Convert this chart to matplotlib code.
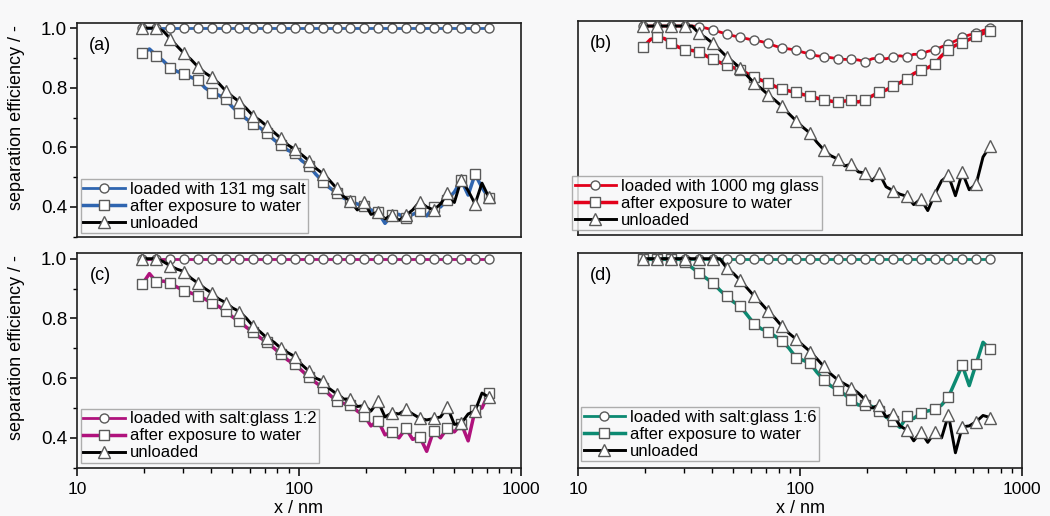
import matplotlib
matplotlib.use("Agg")
import matplotlib.pyplot as plt
from matplotlib.ticker import FixedLocator, NullFormatter

# ----------------------------------------------------------------------
# particle size channels (nm), shared by all curves
X_NM = [19.7, 21.2, 22.8, 24.5, 26.3, 28.2, 30.4, 32.6, 35.1, 37.7,
        40.5, 43.5, 46.7, 50.2, 53.9, 58.0, 62.3, 66.9, 71.9, 77.3,
        83.0, 89.2, 95.9, 103, 111, 119, 128, 137, 148, 159,
        170, 183, 197, 211, 227, 244, 262, 282, 303, 325,
        350, 376, 404, 434, 466, 501, 538, 578, 621, 667, 717]

# (a) 131 mg salt
A_LOADED = [1.00, 1.00, 1.00, 1.00, 1.00, 1.00, 1.00, 1.00, 1.00, 1.00,
            1.00, 1.00, 1.00, 1.00, 1.00, 1.00, 1.00, 1.00, 1.00, 1.00,
            1.00, 1.00, 1.00, 1.00, 1.00, 1.00, 1.00, 1.00, 1.00, 1.00,
            1.00, 1.00, 1.00, 1.00, 1.00, 1.00, 1.00, 1.00, 1.00, 1.00,
            1.00, 1.00, 1.00, 1.00, 1.00, 1.00, 1.00, 1.00, 1.00, 1.00, 1.00]
A_WATER = [0.915, 0.930, 0.908, 0.890, 0.867, 0.855, 0.846, 0.835, 0.826, 0.800,
           0.784, 0.775, 0.761, 0.735, 0.714, 0.695, 0.680, 0.665, 0.647, 0.625,
           0.608, 0.590, 0.580, 0.555, 0.538, 0.510, 0.485, 0.465, 0.447, 0.430,
           0.420, 0.410, 0.403, 0.390, 0.383, 0.345, 0.373, 0.375, 0.363, 0.375,
           0.385, 0.370, 0.400, 0.400, 0.425, 0.450, 0.490, 0.440, 0.510, 0.465, 0.430]
A_UNLOADED = [1.000, 1.000, 1.000, 0.990, 0.965, 0.940, 0.915, 0.895, 0.870, 0.850,
              0.835, 0.815, 0.790, 0.770, 0.753, 0.730, 0.705, 0.690, 0.670, 0.650,
              0.630, 0.608, 0.593, 0.575, 0.555, 0.530, 0.512, 0.490, 0.462, 0.435,
              0.420, 0.390, 0.415, 0.375, 0.383, 0.360, 0.373, 0.355, 0.372, 0.390,
              0.418, 0.400, 0.390, 0.410, 0.446, 0.415, 0.492, 0.455, 0.410, 0.480, 0.432]

# (b) 1000 mg glass
B_LOADED = [1.000, 1.000, 1.000, 1.000, 1.000, 1.000, 1.000, 1.000, 0.998, 0.993,
            0.987, 0.980, 0.973, 0.967, 0.962, 0.957, 0.952, 0.948, 0.942, 0.933,
            0.926, 0.923, 0.919, 0.912, 0.906, 0.900, 0.897, 0.894, 0.890, 0.888,
            0.888, 0.886, 0.880, 0.890, 0.893, 0.890, 0.896, 0.900, 0.896, 0.905,
            0.905, 0.915, 0.920, 0.930, 0.940, 0.950, 0.962, 0.970, 0.975, 0.985, 0.993]
B_WATER = [0.930, 0.955, 0.962, 0.958, 0.944, 0.930, 0.920, 0.918, 0.914, 0.900,
           0.888, 0.878, 0.869, 0.860, 0.853, 0.840, 0.828, 0.818, 0.810, 0.797,
           0.788, 0.782, 0.777, 0.770, 0.765, 0.758, 0.752, 0.748, 0.744, 0.748,
           0.750, 0.745, 0.753, 0.765, 0.778, 0.785, 0.798, 0.810, 0.822, 0.840,
           0.852, 0.860, 0.873, 0.900, 0.920, 0.935, 0.943, 0.955, 0.965, 0.975, 0.985]
B_UNLOADED = [1.000, 1.000, 1.000, 1.000, 1.000, 1.000, 1.000, 1.000, 0.975, 0.960,
              0.942, 0.920, 0.897, 0.878, 0.858, 0.832, 0.808, 0.790, 0.769, 0.750,
              0.730, 0.705, 0.682, 0.660, 0.640, 0.610, 0.584, 0.565, 0.553, 0.530,
              0.536, 0.510, 0.506, 0.480, 0.506, 0.460, 0.447, 0.435, 0.428, 0.400,
              0.419, 0.380, 0.434, 0.480, 0.498, 0.430, 0.508, 0.450, 0.469, 0.560, 0.596]

# (c) salt:glass 1:2
C_LOADED = [1.00, 1.00, 1.00, 1.00, 1.00, 1.00, 1.00, 1.00, 1.00, 1.00,
            1.00, 1.00, 1.00, 1.00, 1.00, 1.00, 1.00, 1.00, 1.00, 1.00,
            1.00, 1.00, 1.00, 1.00, 1.00, 1.00, 1.00, 1.00, 1.00, 1.00,
            1.00, 1.00, 1.00, 1.00, 1.00, 1.00, 1.00, 1.00, 1.00, 1.00,
            1.00, 1.00, 1.00, 1.00, 1.00, 1.00, 1.00, 1.00, 1.00, 1.00, 1.00]
C_WATER = [0.915, 0.950, 0.922, 0.925, 0.918, 0.905, 0.893, 0.885, 0.876, 0.865,
           0.851, 0.840, 0.825, 0.805, 0.790, 0.770, 0.754, 0.735, 0.720, 0.700,
           0.680, 0.660, 0.646, 0.625, 0.603, 0.585, 0.568, 0.545, 0.523, 0.515,
           0.510, 0.490, 0.474, 0.440, 0.458, 0.410, 0.420, 0.400, 0.432, 0.395,
           0.403, 0.355, 0.424, 0.400, 0.433, 0.420, 0.448, 0.390, 0.493, 0.500, 0.550]
C_UNLOADED = [1.000, 1.000, 1.000, 0.990, 0.976, 0.965, 0.957, 0.935, 0.918, 0.900,
              0.885, 0.865, 0.853, 0.835, 0.823, 0.800, 0.773, 0.755, 0.734, 0.720,
              0.700, 0.685, 0.672, 0.645, 0.623, 0.600, 0.590, 0.565, 0.547, 0.530,
              0.530, 0.505, 0.508, 0.490, 0.522, 0.470, 0.484, 0.480, 0.495, 0.480,
              0.466, 0.460, 0.465, 0.470, 0.503, 0.445, 0.449, 0.480, 0.490, 0.550, 0.536]

# (d) salt:glass 1:6
D_LOADED = [1.00, 1.00, 1.00, 1.00, 1.00, 1.00, 1.00, 1.00, 1.00, 1.00,
            1.00, 1.00, 1.00, 1.00, 1.00, 1.00, 1.00, 1.00, 1.00, 1.00,
            1.00, 1.00, 1.00, 1.00, 1.00, 1.00, 1.00, 1.00, 1.00, 1.00,
            1.00, 1.00, 1.00, 1.00, 1.00, 1.00, 1.00, 1.00, 1.00, 1.00,
            1.00, 1.00, 1.00, 1.00, 1.00, 1.00, 1.00, 1.00, 1.00, 1.00, 1.00]
D_WATER = [1.000, 1.000, 1.000, 1.000, 1.000, 1.000, 0.990, 0.970, 0.952, 0.935,
           0.919, 0.895, 0.874, 0.855, 0.840, 0.810, 0.781, 0.765, 0.756, 0.740,
           0.725, 0.700, 0.669, 0.660, 0.650, 0.620, 0.594, 0.575, 0.560, 0.545,
           0.527, 0.510, 0.510, 0.505, 0.490, 0.470, 0.455, 0.435, 0.472, 0.465,
           0.484, 0.490, 0.495, 0.510, 0.537, 0.590, 0.643, 0.575, 0.648, 0.720, 0.696]
D_UNLOADED = [1.000, 1.000, 1.000, 1.000, 1.000, 1.000, 1.000, 1.000, 1.000, 1.000,
              1.000, 1.000, 0.969, 0.950, 0.927, 0.900, 0.874, 0.850, 0.824, 0.800,
              0.773, 0.750, 0.731, 0.710, 0.689, 0.665, 0.639, 0.615, 0.594, 0.580,
              0.568, 0.550, 0.527, 0.500, 0.510, 0.470, 0.479, 0.440, 0.426, 0.390,
              0.420, 0.385, 0.418, 0.400, 0.477, 0.350, 0.437, 0.440, 0.454, 0.475, 0.468]

PANELS = [
    ("(a)", "loaded with 131 mg salt", "#2f65b0", A_LOADED, A_WATER, A_UNLOADED),
    ("(b)", "loaded with 1000 mg glass", "#e2001a", B_LOADED, B_WATER, B_UNLOADED),
    ("(c)", "loaded with salt:glass 1:2", "#b0127d", C_LOADED, C_WATER, C_UNLOADED),
    ("(d)", "loaded with salt:glass 1:6", "#0c8a72", D_LOADED, D_WATER, D_UNLOADED),
]

# axes rectangles in figure fraction: left, bottom, width, height
RECTS = [(0.0733, 0.540, 0.4229, 0.4159), (0.5505, 0.5446, 0.4229, 0.4153),
         (0.0733, 0.0924, 0.4229, 0.4167), (0.5505, 0.0924, 0.4229, 0.4167)]
LEG_ANCHOR = [(0.009, 0.02), (-0.0135, 0.023), (0.009, 0.025), (0.007, 0.034)]

BG = "#f8f8f9"
EDGE = "#5a5a5a"

plt.rcParams.update({
    "font.family": ["Liberation Sans", "DejaVu Sans"],
    "font.size": 12,
    "axes.linewidth": 1.2,
})


def draw_panel(ax, idx, tag, label, color, loaded, water, unloaded):
    mk = dict(markevery=slice(0, None, 2), markerfacecolor="white",
              markeredgecolor=EDGE, markeredgewidth=1.0)
    ax.plot(X_NM, loaded, color=color, lw=2.0, marker="o", ms=6.5,
            label=label, zorder=2, **mk)
    ax.plot(X_NM, water, color=color, lw=2.5, marker="s", ms=6.5,
            label="after exposure to water", zorder=3, **mk)
    ax.plot(X_NM, unloaded, color="black", lw=2.1, marker="^", ms=8,
            label="unloaded", zorder=4, **mk)

    ax.set_xscale("log")
    ax.set_xlim(10, 1000)
    ax.set_ylim(0.298, 1.018)
    ax.set_facecolor(BG)
    for sp in ax.spines.values():
        sp.set_color("#1e1e1e")

    ax.text(0.052, 0.895, tag, transform=ax.transAxes, fontsize=13,
            ha="center", va="center")

    left, bottom = idx % 2 == 0, idx >= 2
    if left:
        ax.yaxis.set_major_locator(FixedLocator([0.4, 0.6, 0.8, 1.0]))
        ax.yaxis.set_minor_locator(FixedLocator([0.3, 0.5, 0.7, 0.9]))
        ax.set_yticklabels(["0.4", "0.6", "0.8", "1.0"])
        ax.tick_params(axis="y", which="major", direction="out", length=5,
                       width=1.1, labelsize=13.5, pad=2)
        ax.tick_params(axis="y", which="minor", direction="out", length=3,
                       width=1.0)
        ax.set_ylabel("separation efficiency / -", fontsize=13)
        ax.yaxis.set_label_coords(-0.117, 0.56)
    else:
        ax.tick_params(axis="y", which="both", left=False, labelleft=False)

    if bottom:
        ax.set_xticks([10, 100, 1000], labels=["10", "100", "1000"])
        ax.xaxis.set_minor_formatter(NullFormatter())
        ax.tick_params(axis="x", which="major", direction="out", length=6,
                       width=1.1, labelsize=12.5, pad=4)
        ax.tick_params(axis="x", which="minor", direction="out", length=3.5,
                       width=1.0)
        ax.set_xlabel("x / nm", fontsize=13, labelpad=2)
    else:
        ax.tick_params(axis="x", which="both", bottom=False,
                       labelbottom=False)

    leg = ax.legend(loc="lower left", bbox_to_anchor=LEG_ANCHOR[idx],
                    fontsize=12, frameon=True, fancybox=False,
                    borderpad=0.15, labelspacing=0.12, handlelength=2.5,
                    handletextpad=0.3, borderaxespad=0.0)
    leg.get_frame().set_edgecolor("#9a9a9a")
    leg.get_frame().set_facecolor(BG)
    leg.get_frame().set_linewidth(1.0)
    leg.set_zorder(6)


fig = plt.figure(figsize=(10.5, 5.16), dpi=100, facecolor=BG)
for i, (tag, label, color, lo, wa, un) in enumerate(PANELS):
    ax = fig.add_axes(RECTS[i])
    draw_panel(ax, i, tag, label, color, lo, wa, un)

fig.savefig("out.png", dpi=100, facecolor=BG)
